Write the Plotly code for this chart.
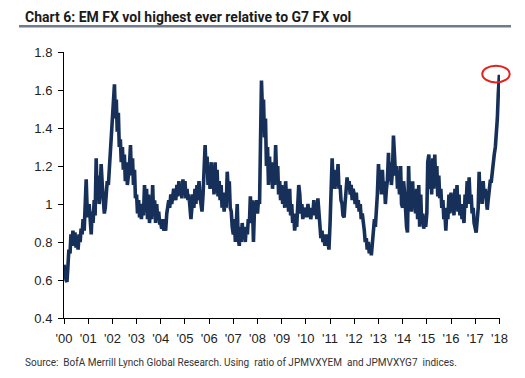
import pandas as pd
import plotly.graph_objects as go

# Semi-monthly readings (1st and 15th of each month) of EM FX vol / G7 FX vol
y2000 = [0.68, 0.62, 0.60, 0.59, 0.72, 0.76, 0.74, 0.84, 0.80, 0.86, 0.78, 0.85,
         0.77, 0.82, 0.76, 0.84, 0.80, 0.87, 0.84, 0.92, 0.86, 0.95, 1.13, 0.98]
y2001 = [0.93, 1.00, 0.88, 0.84, 0.96, 0.90, 1.02, 0.94, 1.24, 1.05, 1.15, 1.00,
         1.08, 1.21, 1.10, 1.02, 0.95, 0.98, 1.08, 1.12, 1.10, 1.18, 1.23, 1.35]
y2002 = [1.48, 1.56, 1.63, 1.45, 1.55, 1.38, 1.48, 1.30, 1.34, 1.22, 1.30, 1.18,
         1.26, 1.12, 1.22, 1.10, 1.15, 1.20, 1.31, 1.15, 1.24, 1.10, 1.18, 1.03]
y2003 = [1.05, 0.95, 1.02, 0.93, 0.98, 0.92, 1.00, 0.94, 1.10, 0.96, 1.08, 0.92,
         1.05, 0.90, 0.98, 0.92, 1.10, 0.94, 1.02, 0.90, 1.00, 0.92, 0.96, 0.90]
y2004 = [0.90, 0.87, 0.92, 0.86, 0.88, 0.86, 0.95, 1.00, 1.02, 0.98, 1.05, 1.00,
         1.03, 1.08, 1.05, 1.02, 1.10, 1.04, 1.12, 1.05, 1.10, 1.03, 1.13, 1.05]
y2005 = [1.12, 1.03, 1.08, 1.02, 1.05, 0.96, 0.92, 0.98, 1.05, 0.98, 1.08, 1.00,
         1.10, 1.02, 1.12, 1.04, 1.00, 0.96, 1.05, 1.20, 1.31, 1.18, 1.25, 1.10]
y2006 = [1.15, 1.08, 1.22, 1.10, 1.20, 1.05, 1.22, 1.06, 1.18, 1.04, 1.12, 1.02,
         1.10, 0.98, 1.06, 0.96, 1.02, 0.98, 1.17, 1.08, 1.12, 0.98, 0.96, 0.88]
y2007 = [0.84, 0.92, 0.80, 0.90, 1.00, 0.82, 0.78, 0.88, 0.80, 0.90, 0.82, 0.86,
         0.80, 0.88, 0.84, 0.92, 0.90, 1.04, 0.95, 1.02, 0.80, 0.96, 1.00, 1.02]
y2008 = [0.95, 1.02, 1.00, 1.40, 1.65, 1.50, 1.55, 1.35, 1.45, 1.20, 1.30, 1.10,
         1.25, 1.12, 1.22, 1.08, 1.20, 1.10, 1.31, 1.15, 1.20, 1.05, 1.12, 1.02]
y2009 = [1.10, 1.00, 1.08, 0.98, 1.12, 1.02, 1.05, 0.96, 1.08, 0.94, 1.00, 0.90,
         0.95, 0.86, 0.92, 0.88, 1.02, 1.10, 1.05, 0.95, 1.00, 0.92, 0.98, 0.93]
y2010 = [0.98, 0.93, 1.00, 0.94, 0.98, 0.92, 0.96, 0.94, 1.02, 0.95, 0.98, 0.92,
         1.03, 0.95, 0.88, 0.82, 0.86, 0.80, 0.82, 0.78, 0.84, 0.78, 0.80, 0.76]
y2011 = [0.90, 1.05, 1.24, 1.12, 1.18, 1.08, 1.15, 1.10, 1.21, 1.08, 1.10, 1.02,
         1.00, 0.94, 0.93, 1.00, 1.10, 1.14, 1.08, 1.12, 1.05, 1.10, 1.02, 1.08]
y2012 = [1.05, 1.00, 1.06, 0.98, 1.02, 0.96, 1.00, 0.92, 0.95, 0.88, 0.86, 0.80,
         0.82, 0.76, 0.80, 0.74, 0.78, 0.73, 0.80, 0.86, 0.92, 0.88, 0.96, 1.05]
y2013 = [1.21, 1.10, 1.15, 1.05, 1.18, 1.08, 1.12, 1.00, 1.08, 1.12, 1.27, 1.12,
         1.22, 1.10, 1.18, 1.36, 1.25, 1.15, 1.20, 1.08, 1.12, 1.05, 1.20, 1.00]
y2014 = [0.98, 1.12, 1.05, 0.92, 0.88, 0.85, 1.20, 1.02, 1.10, 0.96, 1.12, 0.98,
         1.05, 0.95, 1.08, 0.92, 1.10, 0.88, 1.05, 0.90, 0.95, 0.87, 0.92, 0.88]
y2015 = [0.95, 1.22, 1.26, 1.08, 1.18, 1.05, 1.24, 1.08, 1.26, 1.10, 1.20, 1.04,
         1.15, 1.03, 1.08, 0.98, 1.02, 0.92, 0.95, 0.86, 0.98, 0.92, 1.05, 0.95]
y2016 = [1.06, 0.96, 1.04, 0.94, 1.08, 0.98, 1.10, 0.96, 1.05, 0.94, 1.00, 0.92,
         0.95, 0.90, 1.05, 0.98, 1.12, 1.00, 1.14, 1.02, 1.05, 0.95, 0.98, 0.90]
y2017 = [0.88, 0.85, 0.92, 0.98, 1.17, 1.02, 1.10, 1.00, 1.12, 1.04, 1.08, 1.00,
         0.97, 1.02, 1.08, 1.12, 1.12, 1.18, 1.22, 1.26, 1.30, 1.35, 1.45, 1.58]
y2018 = [1.68]

ratio = (y2000 + y2001 + y2002 + y2003 + y2004 + y2005 + y2006 + y2007 + y2008
         + y2009 + y2010 + y2011 + y2012 + y2013 + y2014 + y2015 + y2016
         + y2017 + y2018)
dates = pd.date_range("2000-01-01", periods=len(ratio), freq="SMS")

years = list(range(2000, 2019))
tick_vals = [f"{y}-01-01" for y in years]
tick_text = [f"'{y % 100:02d}" for y in years]
y_ticks = [0.4, 0.6, 0.8, 1.0, 1.2, 1.4, 1.6, 1.8]

title = "Chart 6: EM FX vol highest ever relative to G7 FX vol"
source = "Source:  BofA Merrill Lynch Global Research. Using  ratio of JPMVXYEM  and JPMVXYG7  indices."

fig = go.Figure()
fig.add_trace(go.Scatter(x=dates, y=ratio, mode="lines",
                         line=dict(color="#17305a", width=3.6), showlegend=False))

axis_font = dict(family="Liberation Sans, Arial, sans-serif", size=13, color="#222222")
fig.update_layout(
    width=525, height=378,
    margin=dict(l=56, r=33, t=44, b=68),
    paper_bgcolor="white", plot_bgcolor="white",
    xaxis=dict(range=["2000-01-01", "2018-01-10"], tickvals=tick_vals, ticktext=tick_text,
               showline=True, linecolor="black", linewidth=1, ticks="outside",
               ticklen=5, tickcolor="black", showgrid=False, zeroline=False,
               tickfont=axis_font, ticklabelstandoff=3),
    yaxis=dict(range=[0.4, 1.8], tickvals=y_ticks, showline=True, linecolor="black",
               linewidth=1, ticks="outside", ticklen=5, tickcolor="black",
               showgrid=False, zeroline=False, tickfont=axis_font, ticklabelstandoff=3),
    shapes=[
        dict(type="line", xref="paper", yref="paper", x0=-0.1032, x1=1.0252,
             y0=1.097, y1=1.097, line=dict(color="#6d7b8d", width=2.5)),
        dict(type="circle", xref="paper", yref="y", x0=0.9594, x1=1.0222,
             y0=1.64, y1=1.728, line=dict(color="#e3201b", width=2)),
    ],
    annotations=[
        dict(text="<b>" + title + "</b>", xref="paper", yref="paper",
             x=-0.094, y=1.13, xanchor="left", yanchor="middle", showarrow=False,
             font=dict(family="Roboto, Liberation Sans, sans-serif",
                       size=14, color="#1a1a1a")),
        dict(text=source, xref="paper", yref="paper", x=-0.094, y=-0.169,
             xanchor="left", yanchor="middle", showarrow=False,
             font=dict(family="Roboto, Liberation Sans, sans-serif",
                       size=10, color="#333333")),
    ],
)

fig.write_html("out.html")
